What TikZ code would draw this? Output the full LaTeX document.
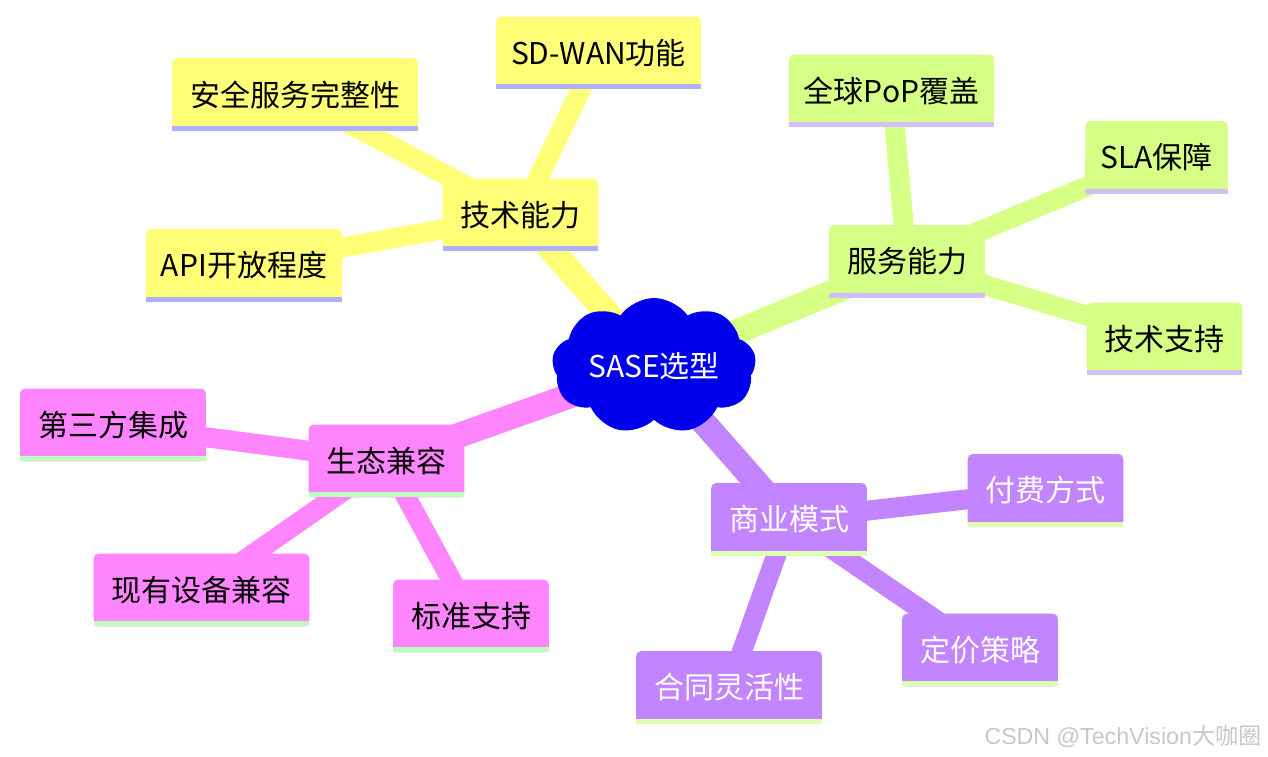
\documentclass[tikz,border=0pt]{standalone}
\usepackage{fontspec}
\newfontfamily\cjk{Noto Sans CJK SC}
\newfontfamily\wmfont{Liberation Sans}
\usetikzlibrary{backgrounds,shapes.symbols}
\definecolor{croot}{HTML}{0000EC}
\definecolor{cyel}{HTML}{FFFF78}
\definecolor{cyelb}{HTML}{AFAFFF}
\definecolor{cgrn}{HTML}{D6FF85}
\definecolor{cgrnb}{HTML}{D2BEFF}
\definecolor{cpur}{HTML}{C285FF}
\definecolor{cpurb}{HTML}{DCFFB4}
\definecolor{cpnk}{HTML}{FF85FF}
\definecolor{cpnkb}{HTML}{BBFFBB}

% box with rounded top and a bar along the bottom
\newcommand{\mmbox}[3]{%
  \fill[#2, rounded corners=2.5pt] (#1.south west) rectangle (#1.north east);
  \fill[#2] (#1.south west) rectangle (#1.east);
  \fill[#3] (#1.south west) rectangle ([yshift=2.5pt]#1.south east);
}

\begin{document}
\begin{tikzpicture}[
  x=0.5pt, y=-0.5pt,
  font=\cjk\fontsize{15pt}{18pt}\selectfont,
  topic/.style={inner xsep=8.75pt, inner ysep=0pt, minimum height=36pt},
  dark/.style={topic, text=white},
  latin/.style={topic, inner xsep=7.3pt},
  trunk/.style={line width=12.5pt},
  twig/.style={line width=10pt}
]
\useasboundingbox (0,0) rectangle (1268,756);

% ---------- centre ----------
\node[cloud, cloud puffs=9, cloud puff arc=110, cloud ignores aspect,
      fill=croot, minimum width=102pt, minimum height=68pt,
      text=white, inner sep=0pt]
  (root) at (654,366) {SASE选型};

% ---------- tech branch ----------
\node[topic] (tech)   at (520.5,215)  {技术能力};
\node[latin] (sdwan)  at (598.5,53)   {SD-WAN功能};
\node[topic] (secsvc) at (295,94.5)   {安全服务完整性};
\node[latin] (api)    at (244,265.5)  {API开放程度};

% ---------- service branch ----------
\node[topic] (svc)     at (907,261.5)   {服务能力};
\node[latin] (pop)     at (891.5,91)    {全球PoP覆盖};
\node[latin] (sla)     at (1156.5,157.5) {SLA保障};
\node[topic] (support) at (1164.5,339)  {技术支持};

% ---------- business branch ----------
\node[dark] (biz)      at (789,519.5)  {商业模式};
\node[dark] (pay)      at (1045.5,490.5) {付费方式};
\node[dark] (price)    at (980,650)    {定价策略};
\node[dark] (contract) at (729,687.5)  {合同灵活性};

% ---------- ecosystem branch ----------
\node[topic] (eco)    at (386.5,461) {生态兼容};
\node[topic] (third)  at (113,425)   {第三方集成};
\node[topic] (legacy) at (201.5,590) {现有设备兼容};
\node[topic] (std)    at (471,616)   {标准支持};

% watermark
\node[font=\wmfont\fontsize{11.6pt}{14pt}\selectfont, text=black!22,
      anchor=east, inner sep=0pt]
  (wm) at (1262,736) {CSDN @TechVision{\cjk 大咖圈}};

\begin{scope}[on background layer]
 % edges from the centre
 \draw[trunk, cyel] (root.center) -- (tech.center);
 \draw[trunk, cgrn] (root.center) -- (svc.center);
 \draw[trunk, cpur] (root.center) -- (biz.center);
 \draw[trunk, cpnk] (root.center) -- (eco.center);

 % edges to the leaves
 \foreach \b in {sdwan,secsvc,api}
   \draw[twig, cyel] (tech.center) -- (\b.center);
 \foreach \b in {pop,sla,support}
   \draw[twig, cgrn] (svc.center) -- (\b.center);
 \foreach \b in {pay,price,contract}
   \draw[twig, cpur] (biz.center) -- (\b.center);
 \foreach \b in {third,legacy,std}
   \draw[twig, cpnk] (eco.center) -- (\b.center);

 % boxes
 \foreach \n in {tech,sdwan,secsvc,api} {\mmbox{\n}{cyel}{cyelb}}
 \foreach \n in {svc,pop,sla,support} {\mmbox{\n}{cgrn}{cgrnb}}
 \foreach \n in {biz,pay,price,contract} {\mmbox{\n}{cpur}{cpurb}}
 \foreach \n in {eco,third,legacy,std} {\mmbox{\n}{cpnk}{cpnkb}}
\end{scope}

\end{tikzpicture}
\end{document}
